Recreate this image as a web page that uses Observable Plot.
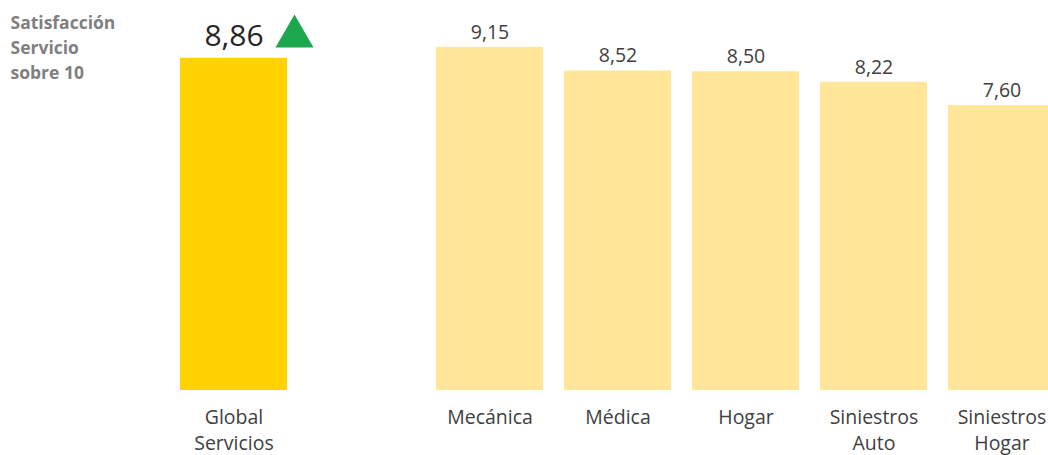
<!DOCTYPE html>
<html><head><meta charset="utf-8">
<script src="https://cdn.jsdelivr.net/npm/d3@7"></script>
<script src="https://cdn.jsdelivr.net/npm/@observablehq/plot@0.6"></script>
<style>
html,body{margin:0;padding:0;background:#fff;}
#chart{position:relative;width:1048px;height:455px;overflow:hidden;}
</style></head>
<body><div id="chart"></div>
<script>
const categories = ["Global Servicios", "", "Mecánica", "Médica", "Hogar", "Siniestros Auto", "Siniestros Hogar"];
const labelLines = [["Global","Servicios"], [], ["Mecánica"], ["Médica"], ["Hogar"], ["Siniestros","Auto"], ["Siniestros","Hogar"]];
const values = [8.86, null, 9.15, 8.52, 8.50, 8.22, 7.60];
const valueLabels = ["8,86", "", "9,15", "8,52", "8,50", "8,22", "7,60"];
const highlight = ["Global Servicios"];
const titleLines = ["Satisfacción", "Servicio", "sobre 10"];
const trendUp = [{cat: "Global Servicios", value: 8.86}];

const data = categories.map((c, i) => ({cat: c, value: values[i], label: valueLabels[i], lines: labelLines[i].join("\n"), hi: highlight.includes(c)})).filter(d => d.cat !== "");

const font = "Open Sans, sans-serif";
const plot = Plot.plot({
  width: 1048, height: 455,
  marginLeft: 0, marginRight: 0, marginTop: 0, marginBottom: 0,
  style: {fontFamily: font, background: "#fff"},
  x: {domain: categories, range: [167.25, 1066.75], paddingInner: 0.167, paddingOuter: 0.0835, axis: null},
  y: {domain: [0, 10], range: [390, 15], axis: null},
  marks: [
    Plot.barY(data, {x: "cat", y: "value", fill: d => d.hi ? "#FFD200" : "#FFE699"}),
    Plot.text(data.filter(d => !d.hi), {x: "cat", y: "value", text: "label", dy: -15, fontSize: 19.5, fill: "#404040"}),
    Plot.text(data.filter(d => d.hi), {x: "cat", y: "value", text: "label", dy: -22, fontSize: 30, fill: "#262626"}),
    Plot.dot(trendUp, {x: "cat", y: "value", symbol: "triangle", r: 14.1, fill: "#1BA74C", dx: 60.5, dy: -21.7}),
    Plot.text(data, {x: "cat", y: 0, text: "lines", lineAnchor: "top", dy: 15, fontSize: 19.5, lineHeight: 1.33, fill: "#404040"}),
    Plot.text([titleLines.join("\n")], {frameAnchor: "top-left", text: d => d, dx: 10, dy: 10, lineAnchor: "top", textAnchor: "start", fontSize: 17.5, fontWeight: "bold", lineHeight: 1.45, fill: "#7F7F7F"})
  ]
});
document.getElementById("chart").appendChild(plot);
</script></body></html>
